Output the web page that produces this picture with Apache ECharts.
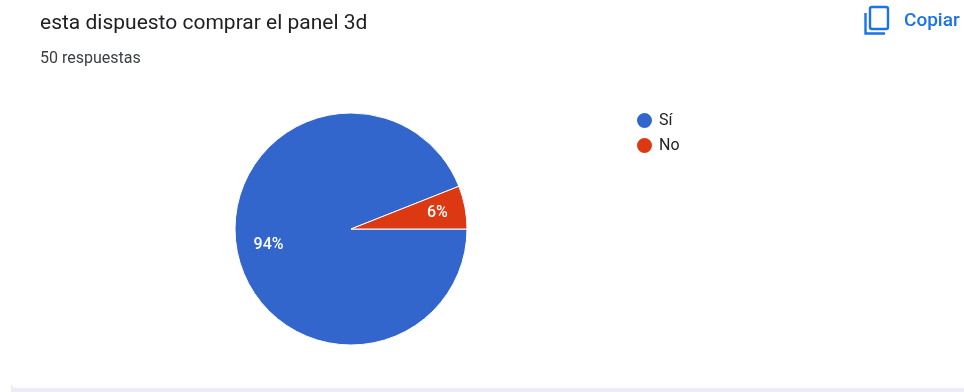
<!DOCTYPE html>
<html>
<head>
<meta charset="utf-8">
<style>html,body{margin:0;padding:0;background:#fff}#c{width:964px;height:392px}</style>
<script src="https://cdn.jsdelivr.net/npm/echarts@6/dist/echarts.min.js"></script>
</head>
<body>
<div id="c"></div>
<script>
// Survey answers, as percentages of the 50 responses
const categories = ['Sí', 'No'];
const shares = [94, 6];
const sliceColors = ['#3366cc', '#dc3912'];
const questionText = 'esta dispuesto comprar el panel 3d';
const responsesText = '50 respuestas';
const copyText = 'Copiar';

const pieData = categories.map((name, i) => ({ name, value: shares[i] }));
const font = 'Roboto';

const chart = echarts.init(document.getElementById('c'), null, { renderer: 'canvas' });
chart.setOption({
  animation: false,
  backgroundColor: '#ffffff',
  color: sliceColors,
  textStyle: { fontFamily: font },
  title: [
    { text: questionText, left: 40, top: 13, padding: 0,
      textStyle: { fontFamily: font, fontSize: 21, fontWeight: 400, color: '#202124' } },
    { text: responsesText, left: 40, top: 51, padding: 0,
      textStyle: { fontFamily: font, fontSize: 16, fontWeight: 400, color: '#3c4043' } },
    { text: copyText, left: 904, top: 12, padding: 0,
      textStyle: { fontFamily: font, fontSize: 19, fontWeight: 500, color: '#1a73e8' } }
  ],
  legend: {
    orient: 'vertical',
    left: 635,
    top: 111,
    padding: 0,
    itemGap: 6,
    itemWidth: 17,
    itemHeight: 17,
    icon: 'circle',
    selectedMode: false,
    data: categories,
    textStyle: { fontFamily: font, fontSize: 16, color: '#222222', padding: [0, 0, 0, 1] }
  },
  series: [
    {
      type: 'pie',
      center: [351, 229],
      radius: [0, 116],
      startAngle: 0,
      clockwise: true,
      silent: true,
      data: pieData,
      label: { show: false },
      labelLine: { show: false },
      itemStyle: { borderColor: '#ffffff', borderWidth: 1 }
    },
    // Transparent ring that places the percentage labels near the rim
    {
      type: 'pie',
      center: [351, 229],
      radius: [54, 116],
      startAngle: 0,
      clockwise: true,
      silent: true,
      data: pieData.map((d, i) => (i === 0 ? { ...d, label: { offset: [4, 0] } } : d)),
      itemStyle: { color: 'rgba(0,0,0,0)', borderWidth: 0 },
      labelLine: { show: false },
      label: {
        show: true,
        position: 'inside',
        formatter: '{c}%',
        fontFamily: font,
        fontSize: 16,
        fontWeight: 500,
        color: '#ffffff'
      }
    }
  ],
  graphic: [
    // Copy icon: front sheet and the corner of the sheet behind it
    { type: 'rect', shape: { x: 870, y: 7, width: 18, height: 22, r: 2 },
      style: { fill: 'none', stroke: '#1a73e8', lineWidth: 2.4 } },
    { type: 'polyline', shape: { points: [[865.5, 13], [865.5, 33.5], [885, 33.5]] },
      style: { fill: 'none', stroke: '#1a73e8', lineWidth: 2.4 } },
    // Lower edge of the card, with its rounded left corner
    { type: 'polygon', shape: { points: [[11, 384], [12, 386], [14, 387.5], [17, 388], [964, 388], [964, 392], [11, 392]] },
      style: { fill: '#ecebf7' } }
  ]
});
</script>
</body>
</html>
